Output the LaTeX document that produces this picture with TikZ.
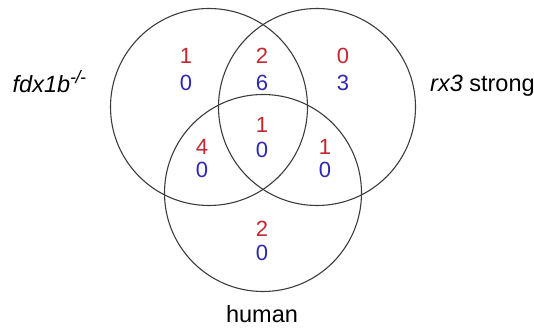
\documentclass[tikz,border=0pt]{standalone}
\usepackage{fontspec}
\setmainfont{Liberation Sans}
\definecolor{numred}{RGB}{195,40,48}
\definecolor{numblue}{RGB}{48,40,175}
\definecolor{ringgray}{RGB}{60,60,60}
\begin{document}
\begin{tikzpicture}[x=1pt,y=-1pt,
  ring/.style={circle,draw=ringgray,line width=1.1pt,minimum size=197pt,inner sep=0pt,outer sep=0pt},
  rednum/.style={anchor=base,inner sep=0pt,text=numred,font=\fontsize{22}{24}\selectfont},
  bluenum/.style={anchor=base,inner sep=0pt,text=numblue,font=\fontsize{22}{24}\selectfont},
  setlabel/.style={inner sep=0pt,text=black,font=\fontsize{23.5}{26}\selectfont}]
\useasboundingbox (0,0) rectangle (534,328);
\fill[white] (0,0) rectangle (534,328);
% circles
\node[ring] (L) at (209,107) {};
\node[ring] (R) at (317,107) {};
\node[ring] (B) at (263,193) {};
% labels
\node[setlabel,anchor=base west] (lf) at (12.5,93) {\itshape fdx1b\raisebox{9.5pt}{\fontsize{18}{20}\selectfont -\kern-0.5pt/\kern-0.5pt-}};
\node[setlabel,anchor=base west] (lr) at (430,92) {\textit{rx3} strong};
\node[setlabel,anchor=base] (lh) at (262,322.5) {human};
% numbers
\node[rednum] (a1) at (186,63.5) {1};
\node[bluenum] (a2) at (186,90.5) {0};
\node[rednum] (b1) at (262,63.5) {2};
\node[bluenum] (b2) at (262,90.5) {6};
\node[rednum] (c1) at (343,63.5) {0};
\node[bluenum] (c2) at (343,90.5) {3};
\node[rednum] (d1) at (262,133) {1};
\node[bluenum] (d2) at (262,157.5) {0};
\node[rednum] (e1) at (202,154.5) {4};
\node[bluenum] (e2) at (202,178) {0};
\node[rednum] (f1) at (325,154.5) {1};
\node[bluenum] (f2) at (325,178) {0};
\node[rednum] (g1) at (262,236.5) {2};
\node[bluenum] (g2) at (262,260.5) {0};
\end{tikzpicture}
\end{document}
